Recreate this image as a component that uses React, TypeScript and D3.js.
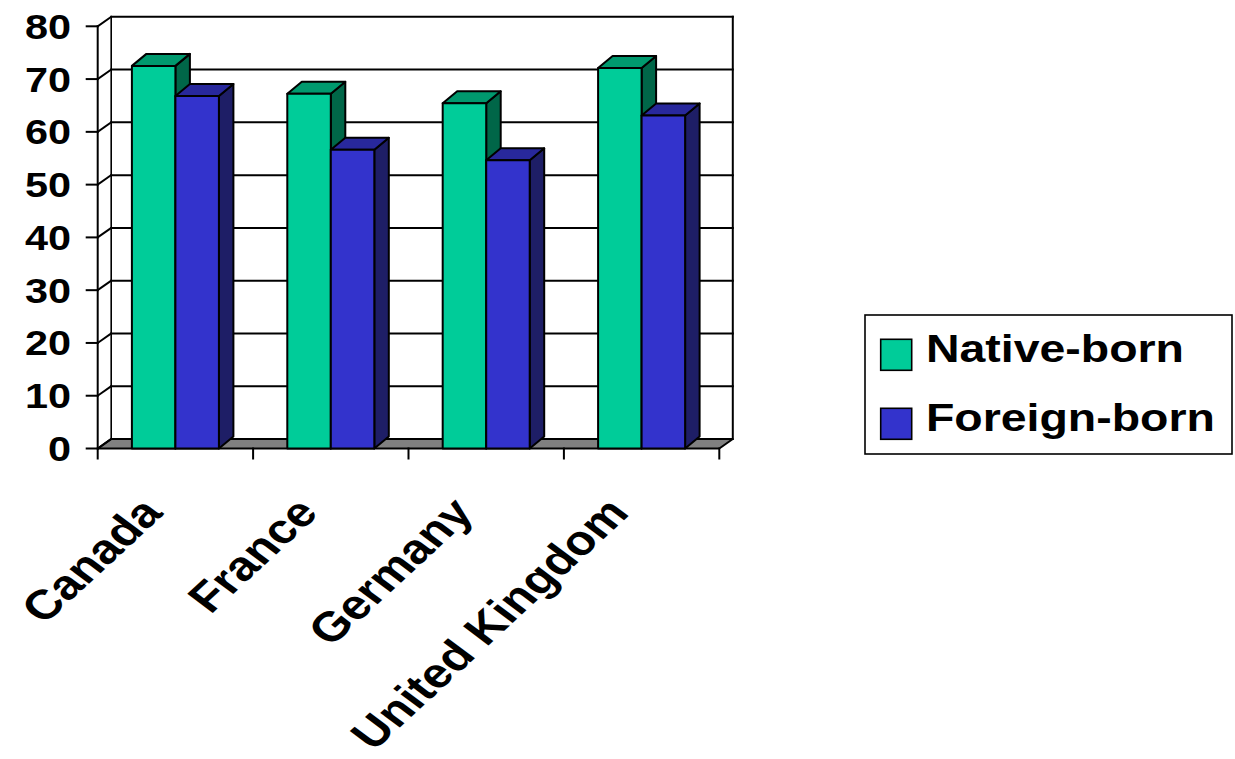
import React from "react";
import * as d3 from "d3";

// Chart data
const categories = ["Canada", "France", "Germany", "United Kingdom"];
const seriesNames = ["Native-born", "Foreign-born"];
const nativeBorn = [72.5, 67.2, 65.4, 72.1];
const foreignBorn = [66.8, 56.6, 54.6, 63.1];
const yTicks = [0, 10, 20, 30, 40, 50, 60, 70, 80];

const seriesValues = [nativeBorn, foreignBorn];
const seriesColors = [
  { front: "#00CC99", top: "#00996E", side: "#006648" },
  { front: "#3333CC", top: "#28289C", side: "#1E1E66" },
];

const W = 1235;
const H = 759;
const FONT = "'Liberation Sans', Arial, Helvetica, sans-serif";
const STRETCH = 1.2;

// Plot geometry
const frontLeft = 97.7;
const frontRight = 719.3;
const wallDx = 13.5;
const wallDy = -9.5;
const barDx = 14.5;
const barDy = -12;

export default function App() {
  const y = d3.scaleLinear().domain([0, 80]).range([448.5, 26.3]);
  const x0 = d3.scaleBand().domain(categories).range([frontLeft, frontRight]).padding(0);
  const x1 = d3
    .scaleBand()
    .domain(seriesNames)
    .range([0, x0.bandwidth()])
    .paddingInner(0)
    .paddingOuter(0.786);

  const y0 = y(0);
  const yTop = y(80);
  const backLeft = frontLeft + wallDx;
  const backRight = frontRight + wallDx;
  const pts = (arr: number[][]) => arr.map((p) => p.join(",")).join(" ");

  const line = { stroke: "#000", strokeWidth: 2, strokeLinecap: "square" as const };

  return (
    <svg
      width={W}
      height={H}
      viewBox={`0 0 ${W} ${H}`}
      style={{ position: "absolute", left: 0, top: 0, background: "#fff" }}
    >
      <rect x={0} y={0} width={W} height={H} fill="#fff" />

      {/* back wall */}
      <rect
        x={backLeft}
        y={yTop + wallDy}
        width={backRight - backLeft}
        height={y0 - yTop}
        fill="#fff"
      />
      {/* floor */}
      <polygon
        points={pts([
          [frontLeft, y0],
          [frontRight, y0],
          [backRight, y0 + wallDy],
          [backLeft, y0 + wallDy],
        ])}
        fill="#808080"
        stroke="#000"
        strokeWidth={2}
        strokeLinejoin="round"
      />

      {/* gridlines on back wall and side wall */}
      {yTicks.map((v) => (
        <g key={`g${v}`}>
          {v > 0 && (
            <line x1={backLeft} x2={backRight} y1={y(v) + wallDy} y2={y(v) + wallDy} {...line} />
          )}
          <line x1={frontLeft} x2={backLeft} y1={y(v)} y2={y(v) + wallDy} {...line} />
          <line x1={frontLeft - 11} x2={frontLeft} y1={y(v)} y2={y(v)} {...line} />
        </g>
      ))}
      <line x1={backLeft} x2={backLeft} y1={yTop + wallDy} y2={y0 + wallDy} stroke="#000" strokeWidth={1.6} />
      <line x1={backRight} x2={backRight} y1={yTop + wallDy} y2={y0 + wallDy} {...line} />
      <line x1={frontLeft} x2={frontLeft} y1={yTop} y2={y0} {...line} />

      {/* category ticks */}
      {[...categories.map((c) => x0(c) as number), frontRight].map((xv, i) => (
        <line key={`t${i}`} x1={xv} x2={xv} y1={y0} y2={y0 + 10} {...line} />
      ))}

      {/* 3D bars */}
      {categories.map((c, i) => (
        <g key={c}>
          {seriesNames.map((s, j) => {
            const v = seriesValues[j][i];
            const x = (x0(c) as number) + (x1(s) as number);
            const w = x1.bandwidth();
            const t = y(v);
            const col = seriesColors[j];
            return (
              <g key={s} stroke="#000" strokeWidth={2} strokeLinejoin="round">
                <polygon
                  points={pts([
                    [x + w, t],
                    [x + w + barDx, t + barDy],
                    [x + w + barDx, y0 + barDy],
                    [x + w, y0],
                  ])}
                  fill={col.side}
                />
                <polygon
                  points={pts([
                    [x, t],
                    [x + barDx, t + barDy],
                    [x + w + barDx, t + barDy],
                    [x + w, t],
                  ])}
                  fill={col.top}
                />
                <rect x={x} y={t} width={w} height={y0 - t} fill={col.front} />
              </g>
            );
          })}
        </g>
      ))}

      {/* y-axis labels */}
      {yTicks.map((v) => (
        <text
          key={`l${v}`}
          transform={`translate(71,${y(v) + 12.5}) scale(${STRETCH},1)`}
          textAnchor="end"
          fontFamily={FONT}
          fontWeight="bold"
          fontSize={34.5}
          fill="#000"
        >
          {v}
        </text>
      ))}

      {/* category labels */}
      {categories.map((c) => (
        <text
          key={`c${c}`}
          transform={`translate(${(x0(c) as number) + x0.bandwidth() / 2 - 11},514) scale(${STRETCH},1) rotate(-48)`}
          textAnchor="end"
          fontFamily={FONT}
          fontWeight="bold"
          fontSize={41.5}
          fill="#000"
        >
          {c}
        </text>
      ))}

      {/* legend */}
      <rect x={865} y={315} width={367} height={139} fill="#fff" stroke="#000" strokeWidth={1.6} />
      {seriesNames.map((s, j) => (
        <g key={`lg${s}`}>
          <rect
            x={880.7}
            y={339.3 + j * 69}
            width={31}
            height={31}
            fill={seriesColors[j].front}
            stroke="#000"
            strokeWidth={1.6}
          />
          <text
            transform={`translate(926,${361.7 + j * 69}) scale(${STRETCH},1)`}
            fontFamily={FONT}
            fontWeight="bold"
            fontSize={38.7}
            fill="#000"
          >
            {s}
          </text>
        </g>
      ))}
    </svg>
  );
}
